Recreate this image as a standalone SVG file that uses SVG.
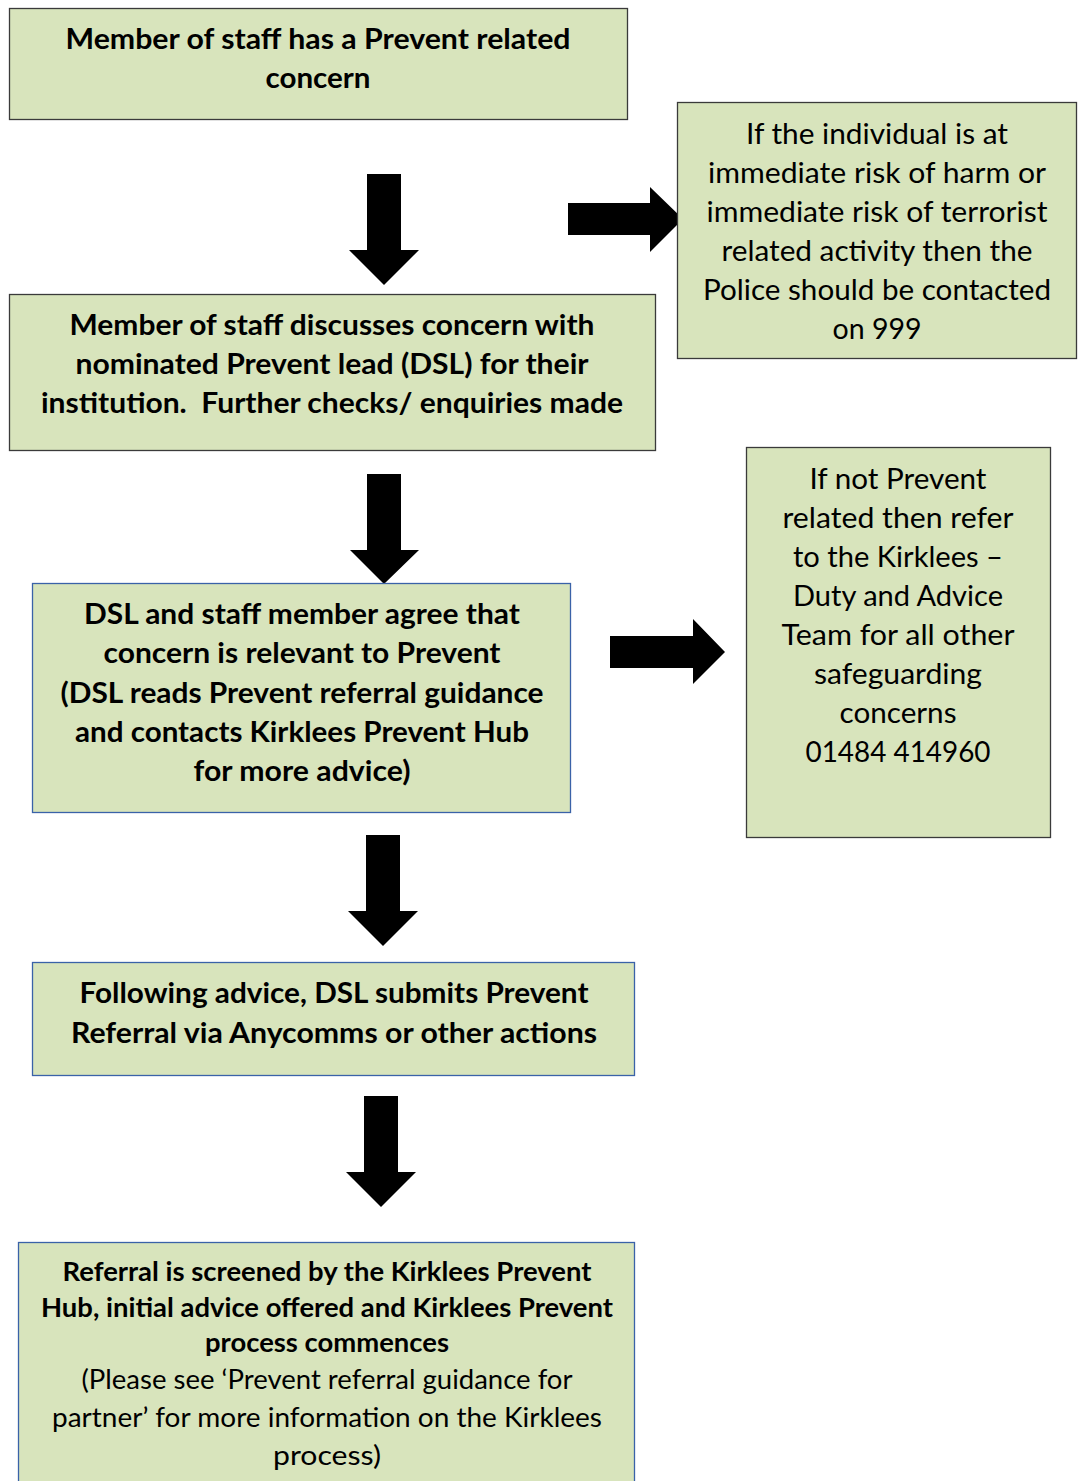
<svg xmlns="http://www.w3.org/2000/svg" width="1082" height="1481" viewBox="0 0 1082 1481">
<style>
.box{fill:#D8E4BC;stroke:#3a3a3a;stroke-width:1.3}
.bbox{fill:#D8E4BC;stroke:#3A62A8;stroke-width:1.3}
text{font-family:Lato,"Open Sans",sans-serif;fill:#000;text-anchor:middle}
.b{font-weight:bold;font-size:29px}
.r{font-size:29px}
.b2{font-weight:bold;font-size:26px}
.r2{font-size:27px}
.arrow{fill:#000}
</style>
<rect width="1082" height="1481" fill="#fff"/>
<g id="connectors">
<polygon class="arrow" points="367,174 401,174 401,250 419,250 384,285 349,250 367,250"/>
<polygon class="arrow" points="568,203 650,203 650,187 683,219 650,252 650,235 568,235"/>
<polygon class="arrow" points="367,474 401,474 401,550 419,550 384,584 350,550 367,550"/>
<polygon class="arrow" points="366,835 400,835 400,911 418,911 383,946 348,911 366,911"/>
<polygon class="arrow" points="364,1096 398,1096 398,1172 416,1172 381,1207 346,1172 364,1172"/>
<polygon class="arrow" points="610,636 693,636 693,619 725,652 693,684 693,668 610,668"/>
</g>
<g id="n1">
<rect class="box" x="9.5" y="8.5" width="618" height="111"/>
<text class="b" x="318" y="49" textLength="505" lengthAdjust="spacingAndGlyphs">Member of staff has a Prevent related</text>
<text class="b" x="318" y="88" textLength="105" lengthAdjust="spacingAndGlyphs">concern</text>
</g>
<g id="n2">
<rect class="box" x="677.5" y="102.5" width="399" height="256"/>
<text class="r" x="877" y="144" textLength="262" lengthAdjust="spacingAndGlyphs">If the individual is at</text>
<text class="r" x="877" y="183" textLength="338" lengthAdjust="spacingAndGlyphs">immediate risk of harm or</text>
<text class="r" x="877" y="222" textLength="341" lengthAdjust="spacingAndGlyphs">immediate risk of terrorist</text>
<text class="r" x="877" y="261" textLength="311" lengthAdjust="spacingAndGlyphs">related activity then the</text>
<text class="r" x="877" y="300" textLength="348" lengthAdjust="spacingAndGlyphs">Police should be contacted</text>
<text class="r" x="877" y="339" textLength="89" lengthAdjust="spacingAndGlyphs">on 999</text>
</g>
<g id="n3">
<rect class="box" x="9.5" y="294.5" width="646" height="156"/>
<text class="b" x="332" y="335" textLength="525" lengthAdjust="spacingAndGlyphs">Member of staff discusses concern with</text>
<text class="b" x="332" y="374" textLength="513" lengthAdjust="spacingAndGlyphs">nominated Prevent lead (DSL) for their</text>
<text class="b" x="332" y="413" textLength="582" lengthAdjust="spacingAndGlyphs" xml:space="preserve">institution.  Further checks/ enquiries made</text>
</g>
<g id="n4">
<rect class="box" x="746.5" y="447.5" width="304" height="390"/>
<text class="r" x="898" y="489" textLength="177" lengthAdjust="spacingAndGlyphs">If not Prevent</text>
<text class="r" x="898" y="528" textLength="231" lengthAdjust="spacingAndGlyphs">related then refer</text>
<text class="r" x="898" y="567" textLength="210" lengthAdjust="spacingAndGlyphs">to the Kirklees –</text>
<text class="r" x="898" y="606" textLength="210" lengthAdjust="spacingAndGlyphs">Duty and Advice</text>
<text class="r" x="898" y="645" textLength="233" lengthAdjust="spacingAndGlyphs">Team for all other</text>
<text class="r" x="898" y="684" textLength="168" lengthAdjust="spacingAndGlyphs">safeguarding</text>
<text class="r" x="898" y="723" textLength="117" lengthAdjust="spacingAndGlyphs">concerns</text>
<text class="r" x="898" y="762" textLength="185" lengthAdjust="spacingAndGlyphs">01484 414960</text>
</g>
<g id="n5">
<rect class="bbox" x="32.5" y="583.5" width="538" height="229"/>
<text class="b" x="302" y="624" textLength="436" lengthAdjust="spacingAndGlyphs">DSL and staff member agree that</text>
<text class="b" x="302" y="663" textLength="397" lengthAdjust="spacingAndGlyphs">concern is relevant to Prevent</text>
<text class="b" x="302" y="703" textLength="483" lengthAdjust="spacingAndGlyphs">(DSL reads Prevent referral guidance</text>
<text class="b" x="302" y="742" textLength="454" lengthAdjust="spacingAndGlyphs">and contacts Kirklees Prevent Hub</text>
<text class="b" x="302" y="781" textLength="217" lengthAdjust="spacingAndGlyphs">for more advice)</text>
</g>
<g id="n6">
<rect class="bbox" x="32.5" y="962.5" width="602" height="113"/>
<text class="b" x="334" y="1003" textLength="509" lengthAdjust="spacingAndGlyphs">Following advice, DSL submits Prevent</text>
<text class="b" x="334" y="1043" textLength="526" lengthAdjust="spacingAndGlyphs">Referral via Anycomms or other actions</text>
</g>
<g id="n7">
<rect class="bbox" x="18.5" y="1242.5" width="616" height="245"/>
<text class="b2" x="327" y="1281" textLength="529" lengthAdjust="spacingAndGlyphs">Referral is screened by the Kirklees Prevent</text>
<text class="b2" x="327" y="1317" textLength="572" lengthAdjust="spacingAndGlyphs">Hub, initial advice offered and Kirklees Prevent</text>
<text class="b2" x="327" y="1352" textLength="244" lengthAdjust="spacingAndGlyphs">process commences</text>
<text class="r2" x="327" y="1389" textLength="491" lengthAdjust="spacingAndGlyphs">(Please see ‘Prevent referral guidance for</text>
<text class="r2" x="327" y="1427" textLength="550" lengthAdjust="spacingAndGlyphs">partner’ for more information on the Kirklees</text>
<text class="r2" x="327" y="1465" textLength="108" lengthAdjust="spacingAndGlyphs">process)</text>
</g>
</svg>
